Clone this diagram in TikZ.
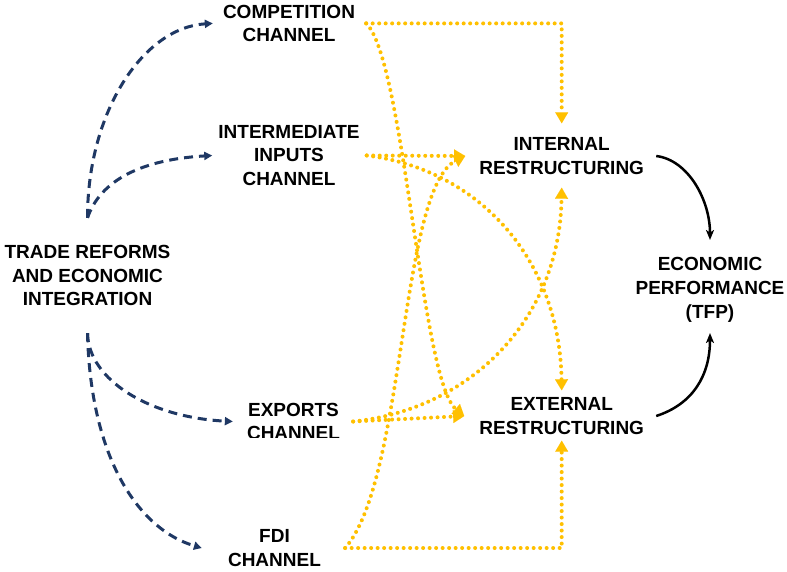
\documentclass[tikz,border=0pt]{standalone}
\usepackage{fontspec}
\setmainfont{Liberation Sans}
\usetikzlibrary{arrows.meta}
\definecolor{navy}{HTML}{1F3864}
\definecolor{gold}{HTML}{FFC000}
\begin{document}
\begin{tikzpicture}[x=1pt,y=-1pt,
  lbl/.style={align=center,inner sep=0pt,font=\fontsize{19}{23.7}\selectfont\bfseries},
  drive/.style={navy,line width=3pt,dash pattern=on 9pt off 6pt,
    -{Triangle[length=8pt,width=8pt]}},
  effect/.style={gold,line width=4pt,line cap=round,dash pattern=on 0pt off 6.5pt,
    -{Triangle[length=11pt,width=13pt,line width=0.01pt]}},
  outcome/.style={black,line width=2.5pt,-{Stealth[length=10pt,width=8pt,inset=2.5pt]}}]
\useasboundingbox (0,0) rectangle (787,572);

% labels
\node[lbl] (trade)  at (87.5,275.5) {TRADE REFORMS\\AND ECONOMIC\\INTEGRATION};
\node[lbl] (comp)   at (289,23.4)   {COMPETITION\\CHANNEL};
\node[lbl] (interm) at (289,155.5)  {INTERMEDIATE\\INPUTS\\CHANNEL};
\begin{scope}
  \clip (200,390) rectangle (360,437.5);
  \node[lbl] (exports) at (293.5,421.5) {EXPORTS\\CHANNEL};
\end{scope}
\node[lbl] (fdi)    at (274.5,548)  {FDI\\CHANNEL};
\node[lbl] (int)    at (561.7,156)  {INTERNAL\\RESTRUCTURING};
\node[lbl] (ext)    at (561.7,416)  {EXTERNAL\\RESTRUCTURING};
\node[lbl] (perf)   at (710,290)    {ECONOMIC\\PERFORMANCE\\(TFP)};

% reforms feed the four channels
\draw[drive] ([yshift=27pt]trade.north) .. controls +(0,-107) and +(-69,4) .. ([xshift=-10pt]comp.west);
\draw[drive] ([yshift=27pt]trade.north) .. controls +(13,-38) and +(-70,4) .. ([xshift=-6pt]interm.west);
\draw[drive] ([yshift=-27pt]trade.south) .. controls +(1,47) and +(-83,-4) .. ([xshift=-14pt]exports.west);
\draw[drive] ([yshift=-27pt]trade.south) .. controls +(3,127) and +(-62,-18) .. ([xshift=-26pt]fdi.west);

% channels act on restructuring
\draw[effect] ([xshift=11pt]comp.east) -| ([yshift=14pt]int.north);
\draw[effect] ([xshift=11pt]comp.east) .. controls +(38,36) and +(-43,-36) .. ([xshift=-15pt]ext.west);
\draw[effect] ([xshift=7pt]interm.east) -- ([xshift=-14pt]int.west);
\draw[effect] ([xshift=7pt]interm.east) .. controls +(113,14) and +(-2,-130) .. ([yshift=7pt]ext.north);
\draw[effect] ([xshift=13pt]exports.east) -- ([xshift=-15pt]ext.west);
\draw[effect] ([xshift=13pt]exports.east) .. controls +(117,-12) and +(-2,132) .. ([yshift=-13pt]int.south);
\draw[effect] ([xshift=24pt]fdi.east) -| ([yshift=-6pt]ext.south);
\draw[effect] ([xshift=24pt]fdi.east) .. controls +(60,-68) and +(-65,33) .. ([xshift=-14pt]int.west);

% restructuring drives performance
\draw[outcome] ([xshift=12pt]int.east) .. controls +(32,4) and +(0,-40) .. ([yshift=17.5pt]perf.north);
\draw[outcome] ([xshift=12pt]ext.east) .. controls +(37,-12) and +(0,42) .. ([yshift=-10.5pt]perf.south);
\end{tikzpicture}
\end{document}
